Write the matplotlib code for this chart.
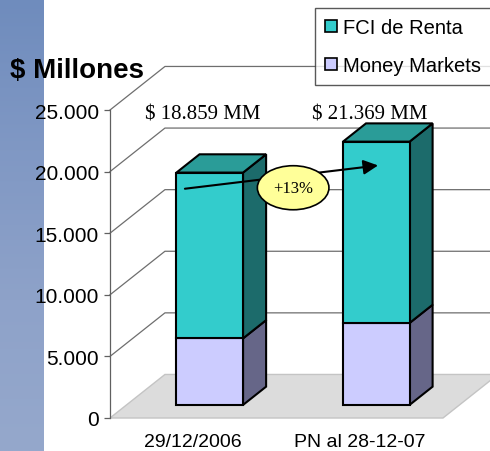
import matplotlib.pyplot as plt
import numpy as np
from matplotlib.patches import Polygon, Ellipse
from matplotlib.ticker import FuncFormatter, FixedLocator
from matplotlib.lines import Line2D
from matplotlib.colors import LinearSegmentedColormap

plt.rcParams['font.family'] = ['Liberation Sans', 'DejaVu Sans']

# datos
categorias = ['29/12/2006', 'PN al 28-12-07']
money_markets = [5400, 6650]
fci_renta = [13459, 14719]
totales = ['$ 18.859 MM', '$ 21.369 MM']
variacion = '+13%'
yticks = [0, 5000, 10000, 15000, 20000, 25000]

# perspectiva (unidades de datos por unidad de profundidad)
DX, DY = 0.33, 3534
d0, d1 = 0.30, 0.72   # profundidad de las barras
hw = 0.20              # medio ancho de barra

c_fci, c_fci_top, c_fci_side = '#33CCCC', '#2A9C98', '#1C6B6B'
c_mm, c_mm_side = '#CCCCFF', '#666688'

fig = plt.figure(figsize=(4.9, 4.52), dpi=100)

# franja azul a la izquierda
sx = fig.add_axes([0, 0, 43/490, 1])
grad = np.linspace(0, 1, 200).reshape(-1, 1)
cm = LinearSegmentedColormap.from_list('b', ['#6F8CBD', '#8098C4', '#8EA2C9', '#95A8CC'])
sx.imshow(grad, aspect='auto', cmap=cm, extent=[0, 1, 0, 1], origin='upper')
sx.axis('off')

ax = fig.add_axes([110/490, 33/452, 333/490, 308/452])
ax.set_xlim(-0.5, 1.5)
ax.set_ylim(0, 25000)
for s in ['top', 'right', 'bottom']:
    ax.spines[s].set_visible(False)
ax.spines['left'].set_color('#606060')
ax.spines['left'].set_linewidth(0.9)
ax.patch.set_alpha(0)

# paredes / lineas de grilla
for v in yticks[1:]:
    ax.plot([-0.5, -0.5 + DX, 1.5 + DX + 0.2], [v, v + DY, v + DY],
            color='#6e6e6e', lw=0.9, clip_on=False, zorder=1)

# piso
piso = Polygon([(-0.5, 0), (1.5, 0), (1.5 + DX, DY), (-0.5 + DX, DY)],
               closed=True, facecolor='#dcdcdc', edgecolor='#c4c4c4',
               lw=1, clip_on=False, zorder=2)
ax.add_patch(piso)

# barras
x = np.arange(len(categorias))
xf = x + d0 * DX
b0 = d0 * DY
ax.bar(xf, money_markets, width=2 * hw, bottom=b0, color=c_mm,
       edgecolor='black', lw=1.5, zorder=5, clip_on=False)
ax.bar(xf, fci_renta, width=2 * hw, bottom=b0 + np.array(money_markets),
       color=c_fci, edgecolor='black', lw=1.5, zorder=5, clip_on=False)

dd = (d1 - d0)
for i in range(len(x)):
    xr = xf[i] + hw
    xl = xf[i] - hw
    m = money_markets[i]
    t = money_markets[i] + fci_renta[i]
    segs = [(0, m, c_mm_side), (m, t, c_fci_side)]
    for lo, hi, col in segs:
        ax.add_patch(Polygon([(xr, b0 + lo), (xr + dd * DX, b0 + lo + dd * DY),
                              (xr + dd * DX, b0 + hi + dd * DY), (xr, b0 + hi)],
                             closed=True, facecolor=col, edgecolor='black',
                             lw=1.5, zorder=4, clip_on=False))
    ax.add_patch(Polygon([(xl, b0 + t), (xr, b0 + t),
                          (xr + dd * DX, b0 + t + dd * DY),
                          (xl + dd * DX, b0 + t + dd * DY)],
                         closed=True, facecolor=c_fci_top, edgecolor='black',
                         lw=1.5, zorder=4, clip_on=False))
    ax.text(x[i] + 0.06, 24650, totales[i], family=['Liberation Serif'],
            fontsize=15, ha='center', va='center', zorder=6)

# flecha y variacion
tot = np.array(money_markets) + np.array(fci_renta)
ax.annotate('', xy=(x[1] + 0.11, tot[1] - 870), xytext=(x[0] - 0.05, tot[0] - 250),
            arrowprops=dict(arrowstyle='-|>', color='black', lw=1.5,
                            mutation_scale=22, shrinkA=0, shrinkB=0),
            zorder=7, annotation_clip=False)
ax.add_patch(Ellipse((0.6, 18690), 0.43, 3575, facecolor='#FFFF99',
                     edgecolor='black', lw=1.2, zorder=8, clip_on=False))
ax.text(0.6, 18690, variacion, family=['Liberation Serif'], fontsize=12,
        ha='center', va='center', zorder=9)

# ejes
ax.yaxis.set_major_locator(FixedLocator(yticks))
ax.yaxis.set_major_formatter(FuncFormatter(lambda v, p: f'{int(v):,}'.replace(',', '.')))
ax.tick_params(axis='y', length=4.5, width=0.9, color='#606060', pad=3.5,
               labelsize=15)
ax.set_xticks(x)
ax.set_xticklabels(categorias, fontsize=14)
ax.tick_params(axis='x', length=0, pad=11)

fig.text(10/490, 1 - 78/452, '$ Millones', fontsize=20, fontweight='bold',
         va='baseline', ha='left')

handles = [Line2D([], [], marker='s', ls='', markersize=9, markerfacecolor=c_fci,
                  markeredgecolor='black', markeredgewidth=1.2),
           Line2D([], [], marker='s', ls='', markersize=9, markerfacecolor=c_mm,
                  markeredgecolor='black', markeredgewidth=1.2)]
leg = fig.legend(handles, ['FCI de Renta', 'Money Markets'], loc='upper left',
                 bbox_to_anchor=(315/490, 1 - 9/452), fontsize=14.5,
                 frameon=True, fancybox=False, edgecolor='#303030',
                 handlelength=0.6, handletextpad=0.3, labelspacing=0.95,
                 borderpad=0.5, borderaxespad=0)
leg.get_frame().set_linewidth(1.0)

fig.savefig('out.png', dpi=100)
